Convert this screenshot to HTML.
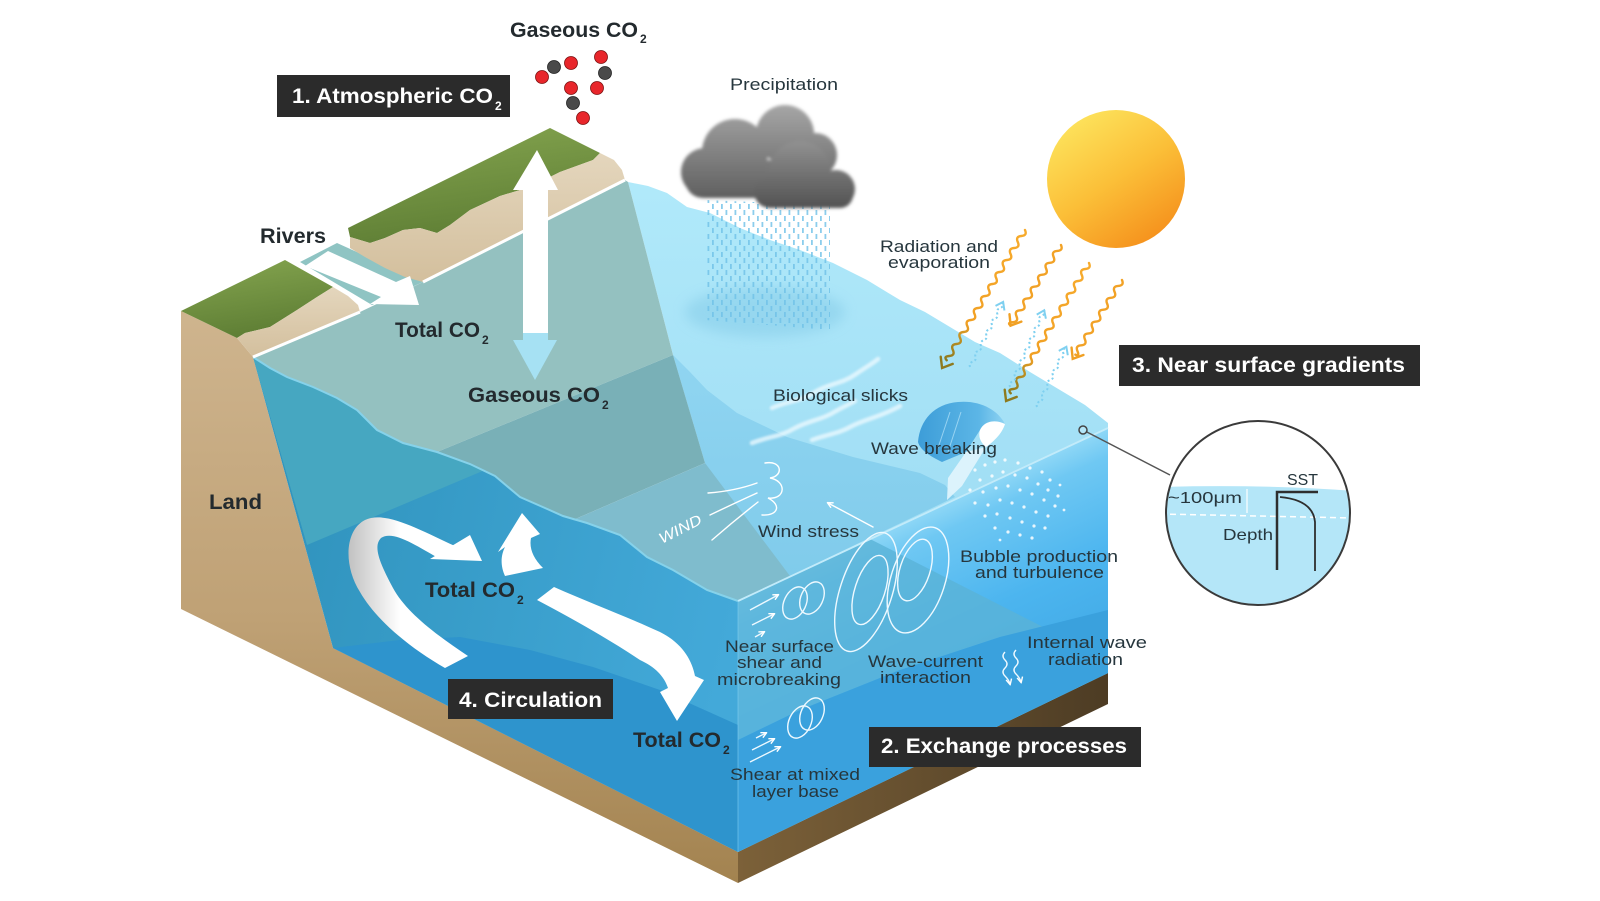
<!DOCTYPE html>
<html><head><meta charset="utf-8"><style>
html,body{margin:0;padding:0;background:#fff;}
svg{display:block;}
text{font-family:"Liberation Sans",Arial,sans-serif;}
.b{font-weight:bold;fill:#232a2e;font-size:21px;}
.w{font-weight:bold;fill:#fff;font-size:21px;}
.r{fill:#26363d;font-size:17px;}
.s{font-weight:bold;font-size:12px;}
</style></head><body>
<svg width="1600" height="901" viewBox="0 0 1600 901" xmlns="http://www.w3.org/2000/svg">
<defs>
<linearGradient id="gLand" gradientUnits="userSpaceOnUse" x1="0" y1="300" x2="0" y2="880"><stop offset="0" stop-color="#cfb58f"/><stop offset=".55" stop-color="#bfa175"/><stop offset="1" stop-color="#a38350"/></linearGradient>
<linearGradient id="gStripR" gradientUnits="userSpaceOnUse" x1="738" y1="0" x2="1108" y2="0"><stop offset="0" stop-color="#7c6139"/><stop offset="1" stop-color="#4d3c24"/></linearGradient>
<linearGradient id="gFL" gradientUnits="userSpaceOnUse" x1="300" y1="500" x2="740" y2="600"><stop offset="0" stop-color="#3194be"/><stop offset=".5" stop-color="#3a9fcc"/><stop offset="1" stop-color="#43a9d9"/></linearGradient>
<linearGradient id="gRF" gradientUnits="userSpaceOnUse" x1="923" y1="514" x2="1028" y2="741"><stop offset="0" stop-color="#8ed7f6"/><stop offset=".1" stop-color="#6fc8f3"/><stop offset=".45" stop-color="#4cb5ef"/><stop offset="1" stop-color="#3ca3e0"/></linearGradient>
<linearGradient id="gUL" gradientUnits="userSpaceOnUse" x1="0" y1="190" x2="0" y2="480"><stop offset="0" stop-color="#b0e9fa"/><stop offset="1" stop-color="#a2dff5"/></linearGradient>
<linearGradient id="gMB" gradientUnits="userSpaceOnUse" x1="0" y1="360" x2="0" y2="600"><stop offset="0" stop-color="#90d5f1"/><stop offset="1" stop-color="#7ecaea"/></linearGradient>
<linearGradient id="gGrass" x1="0" y1="0" x2="0.3" y2="1"><stop offset="0" stop-color="#86a650"/><stop offset="1" stop-color="#5f7f35"/></linearGradient>
<linearGradient id="gSand" x1="0" y1="0" x2="0" y2="1"><stop offset="0" stop-color="#e4d6bd"/><stop offset="1" stop-color="#d3bf9d"/></linearGradient>
<linearGradient id="gSun" x1=".2" y1=".05" x2=".8" y2=".95"><stop offset="0" stop-color="#fde35c"/><stop offset=".5" stop-color="#fbbf38"/><stop offset="1" stop-color="#f5901c"/></linearGradient>
<linearGradient id="gC1" gradientUnits="userSpaceOnUse" x1="0" y1="105" x2="0" y2="200"><stop offset="0" stop-color="#a6a6a6"/><stop offset="1" stop-color="#5e5e5e"/></linearGradient>
<linearGradient id="gC2" gradientUnits="userSpaceOnUse" x1="0" y1="135" x2="0" y2="208"><stop offset="0" stop-color="#979797"/><stop offset="1" stop-color="#525252"/></linearGradient>
<linearGradient id="gRib" gradientUnits="userSpaceOnUse" x1="345" y1="0" x2="400" y2="0"><stop offset="0" stop-color="#bdbdbd"/><stop offset="1" stop-color="#ffffff"/></linearGradient>
<linearGradient id="gRad" x1="0" y1="0" x2="1" y2="0"><stop offset="0" stop-color="#f7ab2c"/><stop offset=".72" stop-color="#f1a024"/><stop offset=".86" stop-color="#b48c22"/><stop offset="1" stop-color="#8e7a1e"/></linearGradient>
<linearGradient id="gWave" x1="0" y1="0" x2="1" y2="0"><stop offset="0" stop-color="#3d9dd8"/><stop offset=".7" stop-color="#5cb6e6"/><stop offset="1" stop-color="#8fd3f2"/></linearGradient>
<filter id="blur1" x="-10%" y="-10%" width="120%" height="120%"><feGaussianBlur stdDeviation="1.6"/></filter>
<filter id="blur6" x="-30%" y="-60%" width="160%" height="220%"><feGaussianBlur stdDeviation="6"/></filter>
<filter id="blurS" x="-10%" y="-50%" width="120%" height="200%"><feGaussianBlur stdDeviation="1.1"/></filter>
<pattern id="rain" patternUnits="userSpaceOnUse" width="9" height="12"><rect x="1" y="0" width="1.8" height="5" fill="#6fc1e7"/><rect x="5.5" y="6" width="1.8" height="5" fill="#6fc1e7"/></pattern>
<marker id="ah" viewBox="0 0 10 10" refX="8" refY="5" markerWidth="5" markerHeight="5" orient="auto"><path d="M1,1 L9,5 L1,9" fill="none" stroke="#fff" stroke-width="2"/></marker>
<clipPath id="cc"><circle cx="1258" cy="513" r="92"/></clipPath>
</defs>

<rect width="1600" height="901" fill="#fff"/>

<!-- land -->
<polygon points="181,311 237,338 253,357 333,648 738,852 738,883 181,609" fill="url(#gLand)"/>
<polygon points="738,852 1108,673 1108,704 738,883" fill="url(#gStripR)"/>

<!-- front-left water face -->
<polygon points="253,357 270,368 287,377 313,387 337,398 357,410 377,430 403,443 437,452 470,464 495,476 520,497 545,508 563,516 587,523 620,535 647,557 673,570 707,590 738,601 738,852 333,648" fill="url(#gFL)"/>
<polygon points="253,357 270,368 287,377 313,387 337,398 357,410 377,430 403,443 437,452 470,464 485,470 307,545" fill="#46a7c1"/>
<polygon points="333,648 400,640 460,637 530,650 593,667 660,690 738,725 738,852" fill="#2e94cd"/>

<!-- right face -->
<polygon points="738,601 1108,428 1108,673 738,852" fill="url(#gRF)"/>
<polygon points="738,602 870,539 1045,628 1000,637 900,670 800,710 738,740" fill="#5ab3d7" opacity=".8"/>
<polygon points="738,740 800,710 900,670 1000,637 1108,610 1108,673 738,852" fill="#3aa1dd"/>

<!-- top surface -->
<polygon points="628,182 648,186 667,193 687,207 710,213 740,228 770,240 800,250 833,263 867,280 900,300 925,312 950,327 975,342 1000,353 1030,372 1060,390 1085,405 1108,423 1108,428 738,601 705,463 673,355" fill="url(#gUL)"/>
<polygon points="673,355 690,372 707,390 737,413 787,437 853,457 920,473 945,485 955,497 738,601 705,463" fill="url(#gMB)"/>
<polygon points="253,357 360,312 423,282 625,180 628,182 673,355 437,452 403,443 377,430 357,410 337,398 313,387 287,377 270,368" fill="#94c1c0"/>
<polygon points="437,452 673,355 705,463 573,520 563,516 545,508 520,497 495,476 470,464" fill="#79b0b7"/>
<polygon points="705,463 573,520 587,523 620,535 647,557 673,570 707,590 738,601 790,576" fill="#7fbccd"/>
<polyline points="253,357 270,368 287,377 313,387 337,398 357,410 377,430 403,443 437,452 470,464 495,476 520,497 545,508 563,516 587,523 620,535 647,557 673,570 707,590 738,601" fill="none" stroke="#86d2ea" stroke-width="2"/>
<line x1="738" y1="601" x2="1108" y2="428" stroke="#c2ebfa" stroke-width="1.8"/>
<line x1="738" y1="601" x2="738" y2="852" stroke="#7fcdf0" stroke-width="1" opacity=".6"/>

<!-- rain shadow -->
<ellipse cx="765" cy="312" rx="80" ry="25" fill="#86cce8" opacity=".55" filter="url(#blur6)"/>

<!-- slicks -->
<g fill="none" stroke="#eefaff" stroke-width="4.5" opacity=".75" stroke-linecap="round" filter="url(#blurS)">
<path d="M772,408 C790,400 800,402 815,392 C830,383 842,384 856,374 C866,367 872,364 878,359"/>
<path d="M752,443 C770,436 780,437 795,428 C810,420 822,420 836,411 C845,406 850,404 855,401"/>
<path d="M812,440 C828,434 838,434 852,426 C866,419 880,417 900,406"/>
</g>

<!-- breaking wave -->
<path d="M918,442 C920,420 934,404 958,402 C980,400 998,410 1005,424 C995,419 985,421 980,430 L966,452 L942,462 C930,456 920,450 918,442 Z" fill="url(#gWave)"/>
<path d="M980,430 C984,421 995,419 1005,424 C1002,434 993,442 986,447 C980,442 978,436 980,430 Z" fill="#fff"/>
<polygon points="966,452 986,447 962,486 947,500 948,478" fill="#e2f5fd" opacity=".9"/>
<g stroke="#b8e5fa" stroke-width="1" fill="none" opacity=".7"><path d="M938,448 L950,412"/><path d="M948,452 L961,412"/></g>

<!-- bubbles -->
<g fill="#fff" opacity=".85">
<circle cx="975" cy="470" r="1.6"/><circle cx="985" cy="465" r="1.6"/><circle cx="995" cy="462" r="1.6"/><circle cx="1005" cy="460" r="1.6"/><circle cx="1018" cy="463" r="1.6"/><circle cx="1030" cy="468" r="1.6"/><circle cx="1042" cy="472" r="1.6"/><circle cx="1050" cy="480" r="1.6"/><circle cx="980" cy="480" r="1.6"/><circle cx="992" cy="476" r="1.6"/><circle cx="1003" cy="472" r="1.6"/><circle cx="1015" cy="475" r="1.6"/><circle cx="1027" cy="478" r="1.6"/><circle cx="1038" cy="484" r="1.6"/><circle cx="1048" cy="490" r="1.6"/><circle cx="1058" cy="496" r="1.6"/><circle cx="970" cy="490" r="1.6"/><circle cx="983" cy="492" r="1.6"/><circle cx="996" cy="488" r="1.6"/><circle cx="1008" cy="486" r="1.6"/><circle cx="1020" cy="490" r="1.6"/><circle cx="1032" cy="494" r="1.6"/><circle cx="1044" cy="500" r="1.6"/><circle cx="1055" cy="506" r="1.6"/><circle cx="975" cy="503" r="1.6"/><circle cx="988" cy="505" r="1.6"/><circle cx="1000" cy="500" r="1.6"/><circle cx="1012" cy="503" r="1.6"/><circle cx="1024" cy="507" r="1.6"/><circle cx="1036" cy="512" r="1.6"/><circle cx="1048" cy="516" r="1.6"/><circle cx="985" cy="516" r="1.6"/><circle cx="997" cy="514" r="1.6"/><circle cx="1010" cy="518" r="1.6"/><circle cx="1022" cy="522" r="1.6"/><circle cx="1034" cy="526" r="1.6"/><circle cx="1045" cy="528" r="1.6"/><circle cx="995" cy="528" r="1.6"/><circle cx="1008" cy="532" r="1.6"/><circle cx="1020" cy="535" r="1.6"/><circle cx="1032" cy="538" r="1.6"/><circle cx="1060" cy="485" r="1.4"/><circle cx="1064" cy="510" r="1.4"/><circle cx="1000" cy="540" r="1.4"/>
</g>

<!-- wind -->
<g fill="none" stroke="#fff" stroke-width="1.4" stroke-linecap="round">
<path d="M708,493 Q735,491 757,483"/>
<path d="M710,515 Q735,503 757,493"/>
<path d="M712,540 Q735,520 758,502"/>
<path d="M765,463 C782,460 784,476 770,478 C787,481 786,500 768,498 C782,505 778,516 762,515"/>
<line x1="873" y1="527" x2="828" y2="503" marker-end="url(#ah)"/>
</g>
<text x="0" y="0" transform="translate(662,544) rotate(-27)" font-style="italic" font-size="15" fill="#fff" textLength="46" lengthAdjust="spacingAndGlyphs">WIND</text>

<!-- eddies -->
<g fill="none" stroke="#eef9ff" stroke-width="1.4">
<ellipse cx="795" cy="603" rx="11" ry="17" transform="rotate(25 795 603)"/>
<ellipse cx="812" cy="598" rx="11" ry="17" transform="rotate(25 812 598)"/>
<ellipse cx="866" cy="592" rx="26" ry="62" transform="rotate(18 866 592)"/>
<ellipse cx="870" cy="590" rx="15" ry="36" transform="rotate(18 870 590)"/>
<ellipse cx="918" cy="580" rx="27" ry="55" transform="rotate(18 918 580)"/>
<ellipse cx="915" cy="570" rx="15" ry="32" transform="rotate(18 915 570)"/>
<ellipse cx="800" cy="722" rx="11" ry="17" transform="rotate(25 800 722)"/>
<ellipse cx="812" cy="714" rx="11" ry="17" transform="rotate(25 812 714)"/>
<line x1="750" y1="610" x2="778" y2="595" marker-end="url(#ah)"/>
<line x1="752" y1="625" x2="774" y2="614" marker-end="url(#ah)"/>
<line x1="755" y1="637" x2="764" y2="632" marker-end="url(#ah)"/>
<line x1="750" y1="762" x2="780" y2="747" marker-end="url(#ah)"/>
<line x1="752" y1="750" x2="774" y2="739" marker-end="url(#ah)"/>
<line x1="756" y1="738" x2="766" y2="733" marker-end="url(#ah)"/>
<path d="M1005,652 q-4,4 0,8 t0,8 t0,8 t5,8" marker-end="url(#ah)"/>
<path d="M1016,650 q-4,4 0,8 t0,8 t0,8 t5,8" marker-end="url(#ah)"/>
</g>

<!-- river -->
<polygon points="300,262 337,243 423,282 372,305" fill="#8fc4c3"/>

<!-- lower cliff -->
<polygon points="181,311 285,260 333,287 317,297 297,310 270,327 245,333 237,338" fill="url(#gGrass)"/>
<polygon points="237,338 245,333 270,327 297,310 317,297 333,287 348,296 358,305 360,312 253,357" fill="url(#gSand)"/>
<!-- upper cliff -->
<polygon points="348,228 550,128 600,153 593,160 560,172 530,187 500,196 470,210 450,225 437,233 420,228 403,230 385,238 370,243 350,237" fill="url(#gGrass)"/>
<polygon points="350,237 370,243 385,238 403,230 420,228 437,233 450,225 470,210 500,196 530,187 560,172 593,160 600,153 614,160 622,170 625,180 423,282 405,277 385,268 365,257 350,248" fill="url(#gSand)"/>
<polyline points="253,357 360,312" fill="none" stroke="#fff" stroke-width="3"/>
<polyline points="423,282 625,180" fill="none" stroke="#fff" stroke-width="3"/>

<!-- rivers arrow -->
<polygon points="305,266 328,251 396,282 410,276 419,305 370,304 381,297" fill="#fff"/>

<!-- vertical double arrow -->
<polygon points="537,150 558,190 548,190 548,334 523,334 523,190 513,190" fill="#fff"/>
<polygon points="523,333 548,333 548,340 557,340 535,380 513,340 523,340" fill="#a6e1f3"/>

<!-- circulation arrows -->
<path d="M455,546 C420,530 385,510 365,520 C345,530 343,565 360,592 C376,620 410,648 445,668 L468,656 C435,634 406,612 393,588 C379,562 373,546 381,538 C393,530 415,545 440,559 Z" fill="url(#gRib)"/>
<polygon points="470,535 482,561 430,559" fill="#fff"/>
<path d="M505,576 C500,565 501,555 505,547 L498,552 L522,513 L540,534 L531,538 C529,548 533,558 543,568 Z" fill="#fff"/>
<path d="M537,600 L554,587 C590,603 630,618 660,632 C682,643 692,660 695,676 L704,680 L677,721 L660,692 L668,688 C664,676 655,667 640,660 C610,640 575,620 537,600 Z" fill="#fff"/>

<!-- cloud + rain -->
<polygon points="705,200 830,205 830,330 705,320" fill="url(#rain)" opacity=".8"/>
<g filter="url(#blur1)">
<g fill="url(#gC1)">
<circle cx="705" cy="172" r="24"/><circle cx="735" cy="152" r="33"/><circle cx="785" cy="134" r="29"/><circle cx="815" cy="155" r="22"/>
<rect x="685" y="160" width="130" height="38" rx="18"/>
</g>
<g fill="url(#gC2)">
<circle cx="800" cy="172" r="31"/><circle cx="836" cy="189" r="19"/><circle cx="770" cy="192" r="16"/>
<rect x="758" y="180" width="95" height="28" rx="13"/>
</g>
</g>

<!-- sun -->
<circle cx="1116" cy="179" r="69" fill="url(#gSun)"/>

<!-- radiation arrows -->
<g fill="none" stroke-width="2.4" stroke-linecap="round">
<g transform="translate(1025,230) rotate(121)"><path d="M0,0 q3.5,-5 7,0 t7,0 t7,0 t7,0 t7,0 t7,0 t7,0 t7,0 t7,0 t7,0 t7,0 t7,0 t7,0 t7,0 t7,0 t7,0 t7,0 t7,0 t7,0 t7,0 t7,0 t5,0" stroke="url(#gRad)"/><path d="M152,-7 L161,0 L152,7" stroke="#8e7a1e"/></g>
<g transform="translate(1061,245) rotate(122)"><path d="M0,0 q3.5,-5 7,0 t7,0 t7,0 t7,0 t7,0 t7,0 t7,0 t7,0 t7,0 t7,0 t7,0 t7,0 t7,0 t4,0" stroke="#f2a226"/><path d="M86,-7 L95,0 L86,7" stroke="#f0a024"/></g>
<g transform="translate(1089,263) rotate(121)"><path d="M0,0 q3.5,-5 7,0 t7,0 t7,0 t7,0 t7,0 t7,0 t7,0 t7,0 t7,0 t7,0 t7,0 t7,0 t7,0 t7,0 t7,0 t7,0 t7,0 t7,0 t7,0 t7,0 t7,0 t5,0" stroke="url(#gRad)"/><path d="M152,-7 L161,0 L152,7" stroke="#8e7a1e"/></g>
<g transform="translate(1122,280) rotate(122)"><path d="M0,0 q3.5,-5 7,0 t7,0 t7,0 t7,0 t7,0 t7,0 t7,0 t7,0 t7,0 t7,0 t7,0 t7,0 t4,0" stroke="#f2a226"/><path d="M84,-7 L93,0 L84,7" stroke="#f0a024"/></g>
</g>
<!-- evaporation -->
<g fill="none" stroke="#7fd0f0" stroke-width="2">
<g transform="translate(970,367) rotate(-63)"><path d="M0,0 q3,-3 6,0 t6,0 t6,0 t6,0 t6,0 t6,0 t6,0 t6,0 t6,0 t6,0 t6,0 t6,0" stroke-dasharray="2 2.5"/><path d="M66,-5 L73,0 L66,5"/></g>
<g transform="translate(1010,387) rotate(-66)"><path d="M0,0 q3,-3 6,0 t6,0 t6,0 t6,0 t6,0 t6,0 t6,0 t6,0 t6,0 t6,0 t6,0 t6,0 t6,0 t6,0" stroke-dasharray="2 2.5"/><path d="M77,-5 L84,0 L77,5"/></g>
<g transform="translate(1037,407) rotate(-64)"><path d="M0,0 q3,-3 6,0 t6,0 t6,0 t6,0 t6,0 t6,0 t6,0 t6,0 t6,0 t6,0 t6,0" stroke-dasharray="2 2.5"/><path d="M60,-5 L67,0 L60,5"/></g>
</g>

<!-- molecules -->
<g stroke="#7a1010" stroke-width="0.8">
<circle cx="542" cy="77" r="6.5" fill="#e8262b"/><circle cx="554" cy="67" r="6.5" fill="#4a4a4a" stroke="#222"/><circle cx="571" cy="63" r="6.5" fill="#e8262b"/>
<circle cx="601" cy="57" r="6.5" fill="#e8262b"/><circle cx="605" cy="73" r="6.5" fill="#4a4a4a" stroke="#222"/><circle cx="597" cy="88" r="6.5" fill="#e8262b"/>
<circle cx="571" cy="88" r="6.5" fill="#e8262b"/><circle cx="573" cy="103" r="6.5" fill="#4a4a4a" stroke="#222"/><circle cx="583" cy="118" r="6.5" fill="#e8262b"/>
</g>

<!-- bold labels -->
<text class="b" x="510" y="37" textLength="128" lengthAdjust="spacingAndGlyphs">Gaseous CO</text><text class="b s" x="640" y="43" fill="#232a2e">2</text>
<text class="b" x="260" y="243" textLength="66" lengthAdjust="spacingAndGlyphs">Rivers</text>
<text class="b" x="395" y="337" textLength="85" lengthAdjust="spacingAndGlyphs">Total CO</text><text class="b s" x="482" y="344">2</text>
<text class="b" x="468" y="402" textLength="132" lengthAdjust="spacingAndGlyphs">Gaseous CO</text><text class="b s" x="602" y="409">2</text>
<text class="b" x="209" y="509" textLength="53" lengthAdjust="spacingAndGlyphs">Land</text>
<text class="b" x="425" y="597" textLength="90" lengthAdjust="spacingAndGlyphs">Total CO</text><text class="b s" x="517" y="604">2</text>
<text class="b" x="633" y="747" textLength="88" lengthAdjust="spacingAndGlyphs">Total CO</text><text class="b s" x="723" y="754">2</text>

<!-- label boxes -->
<rect x="277" y="75" width="233" height="42" fill="#2b2b2b"/>
<text class="w" x="292" y="103" textLength="201" lengthAdjust="spacingAndGlyphs">1. Atmospheric CO</text><text class="w s" x="495" y="110">2</text>
<rect x="1119" y="345" width="301" height="41" fill="#2b2b2b"/>
<text class="w" x="1132" y="372" textLength="273" lengthAdjust="spacingAndGlyphs">3. Near surface gradients</text>
<rect x="448" y="679" width="165" height="40" fill="#2b2b2b"/>
<text class="w" x="459" y="707" textLength="143" lengthAdjust="spacingAndGlyphs">4. Circulation</text>
<rect x="869" y="727" width="272" height="40" fill="#2b2b2b"/>
<text class="w" x="881" y="753" textLength="246" lengthAdjust="spacingAndGlyphs">2. Exchange processes</text>

<!-- regular labels -->
<text class="r" x="730" y="90" textLength="108" lengthAdjust="spacingAndGlyphs">Precipitation</text>
<text class="r" x="880" y="252" textLength="118" lengthAdjust="spacingAndGlyphs">Radiation and</text>
<text class="r" x="888" y="268" textLength="102" lengthAdjust="spacingAndGlyphs">evaporation</text>
<text class="r" x="773" y="401" textLength="135" lengthAdjust="spacingAndGlyphs">Biological slicks</text>
<text class="r" x="871" y="454" textLength="126" lengthAdjust="spacingAndGlyphs">Wave breaking</text>
<text class="r" x="758" y="537" textLength="101" lengthAdjust="spacingAndGlyphs">Wind stress</text>
<text class="r" x="960" y="562" textLength="158" lengthAdjust="spacingAndGlyphs">Bubble production</text>
<text class="r" x="975" y="578" textLength="129" lengthAdjust="spacingAndGlyphs">and turbulence</text>
<text class="r" x="725" y="652" textLength="109" lengthAdjust="spacingAndGlyphs">Near surface</text>
<text class="r" x="737" y="668" textLength="85" lengthAdjust="spacingAndGlyphs">shear and</text>
<text class="r" x="717" y="685" textLength="124" lengthAdjust="spacingAndGlyphs">microbreaking</text>
<text class="r" x="868" y="667" textLength="115" lengthAdjust="spacingAndGlyphs">Wave-current</text>
<text class="r" x="880" y="683" textLength="91" lengthAdjust="spacingAndGlyphs">interaction</text>
<text class="r" x="1027" y="648" textLength="120" lengthAdjust="spacingAndGlyphs">Internal wave</text>
<text class="r" x="1048" y="665" textLength="75" lengthAdjust="spacingAndGlyphs">radiation</text>
<text class="r" x="730" y="780" textLength="130" lengthAdjust="spacingAndGlyphs">Shear at mixed</text>
<text class="r" x="752" y="797" textLength="87" lengthAdjust="spacingAndGlyphs">layer base</text>

<!-- inset -->
<line x1="1083" y1="430" x2="1170" y2="475" stroke="#555" stroke-width="1.5"/>
<circle cx="1083" cy="430" r="4" fill="#b4e6f8" stroke="#444" stroke-width="1.5"/>
<circle cx="1258" cy="513" r="92" fill="#fff"/>
<g clip-path="url(#cc)">
<path d="M1160,487 Q1260,484 1355,491 L1355,610 L1160,610 Z" fill="#b4e6f8"/>
<line x1="1160" y1="514" x2="1355" y2="518" stroke="#fff" stroke-width="1.5" stroke-dasharray="6 4"/>
</g>
<line x1="1247" y1="489" x2="1247" y2="513" stroke="#fff" stroke-width="1.2"/>
<path d="M1277,570 L1277,492 L1318,492" fill="none" stroke="#2e2e2e" stroke-width="2.5"/>
<path d="M1280,497 Q1313,500 1315,522 L1315,571" fill="none" stroke="#2e2e2e" stroke-width="1.8"/>
<circle cx="1258" cy="513" r="92" fill="none" stroke="#3a3a3a" stroke-width="2"/>
<text x="1287" y="485" font-size="16" fill="#26363d" textLength="31" lengthAdjust="spacingAndGlyphs">SST</text>
<text x="1168" y="503" font-size="16" fill="#26363d" textLength="74" lengthAdjust="spacingAndGlyphs">~100μm</text>
<text x="1223" y="540" font-size="16" fill="#26363d" textLength="50" lengthAdjust="spacingAndGlyphs">Depth</text>
</svg>
</body></html>
